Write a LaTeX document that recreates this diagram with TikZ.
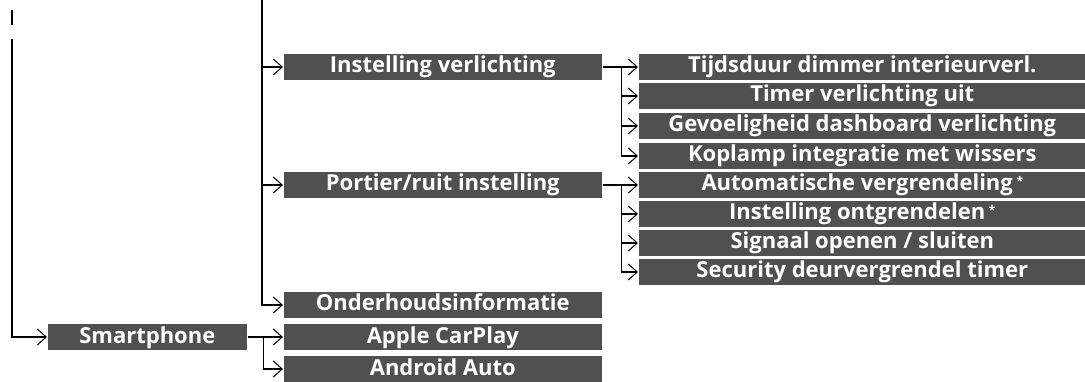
\documentclass[tikz,border=0pt]{standalone}
\usepackage{fontspec}
\setsansfont{Open Sans}
\usepackage{tikz}
\usetikzlibrary{arrows.meta,calc}

\definecolor{boxgrey}{RGB}{80,80,80}
\tikzset{
  menubox/.style={fill=boxgrey,text=white,font=\sffamily\bfseries\fontsize{22}{24}\selectfont,
    minimum height=26pt,text height=18pt,text depth=6pt,inner sep=0pt,anchor=west},
  wide/.style={menubox,minimum width=318pt},
  wider/.style={menubox,minimum width=447pt},
  arr/.style={-{Straight Barb[length=9pt,width=16pt,line width=1pt]}},
}
\newcommand{\opt}{\,\raisebox{5pt}{\fontsize{12}{12}\selectfont*}}

\begin{document}
\begin{tikzpicture}[x=1pt,y=-1pt,line width=1.6pt]
\useasboundingbox (0,0) rectangle (1085,382);
% second level
\node[wide] (verl) at (283,67) {Instelling verlichting};
\node[wide] (deur) at (283,185) {Portier/ruit instelling};
\node[wide] (onder) at (283,305) {Onderhoudsinformatie};
\node[menubox,minimum width=199pt] (smart) at (47,337) {Smartphone};
\node[wide] (carplay) at (283,337) {Apple CarPlay};
\node[wide] (android) at (283,369) {Android Auto};
% third level
\node[wider] (vl1) at (638,67) {Tijdsduur dimmer interieurverl.};
\node[wider] (vl2) at (638,96) {Timer verlichting uit};
\node[wider] (vl3) at (638,126) {Gevoeligheid dashboard verlichting};
\node[wider] (vl4) at (638,156) {Koplamp integratie met wissers};
\node[wider] (dr1) at (638,185) {Automatische vergrendeling\opt};
\node[wider] (dr2) at (638,214) {Instelling ontgrendelen\opt};
\node[wider] (dr3) at (638,243) {Signaal openen / sluiten};
\node[wider] (dr4) at (638,272) {Security deurvergrendel timer};

% trunks
\coordinate (m1) at (12,10);
\coordinate (m2) at (12,25);
\draw (m1) -- (m2);
\coordinate (t1) at (12,39);
\draw[arr] (t1) |- (smart.west);
\coordinate (t2) at (262,0);
\draw[arr] (t2) |- (onder.west);
\draw[arr] (t2 |- verl.west) -- (verl.west);
\draw[arr] (t2 |- deur.west) -- (deur.west);

% branches
\coordinate (b1) at ($(verl.east)+(19,0)$);
\draw (verl.east) -- (b1);
\foreach \n in {vl1,vl2,vl3,vl4} \draw[arr] (b1) |- (\n.west);
\coordinate (b2) at ($(deur.east)+(19,0)$);
\draw (deur.east) -- (b2);
\foreach \n in {dr1,dr2,dr3,dr4} \draw[arr] (b2) |- (\n.west);
\coordinate (b3) at ($(smart.east)+(16,0)$);
\draw (smart.east) -- (b3);
\foreach \n in {carplay,android} \draw[arr] (b3) |- (\n.west);
\end{tikzpicture}
\end{document}
